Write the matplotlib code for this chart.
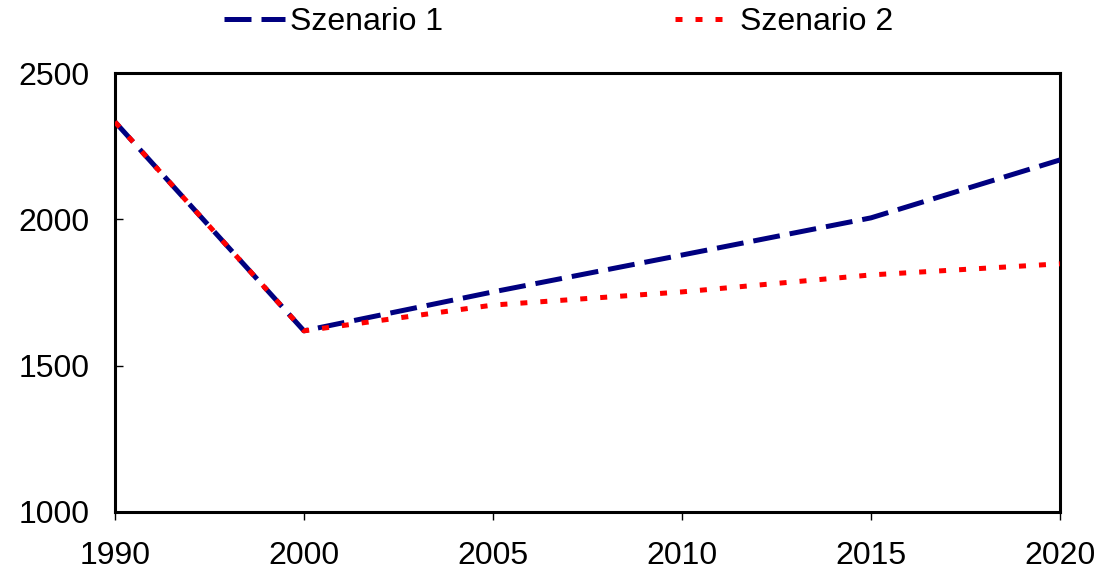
#!/usr/bin/env python3
"""
Szenario comparison line chart (1990-2020)
"""

import matplotlib
matplotlib.use('Agg')
import matplotlib.pyplot as plt

plt.rcParams['font.family'] = ['Liberation Sans', 'DejaVu Sans']

# =============================================================================
# Data
# =============================================================================
years = ['1990', '2000', '2005', '2010', '2015', '2020']
szenario_1 = [2333, 1619, 1752, 1878, 2005, 2203]
szenario_2 = [2333, 1619, 1707, 1752, 1810, 1848]

# =============================================================================
# Plot
# =============================================================================
fig = plt.figure(figsize=(11, 5.73), dpi=100)
ax = fig.add_axes([0.1045, 0.1065, 0.8591, 0.7661])

x = range(len(years))
l1, = ax.plot(x, szenario_1, color='#000080', linewidth=3.6,
              dashes=(5.4, 2.0), label='Szenario 1', zorder=3)
l2, = ax.plot(x, szenario_2, color='#ff0000', linewidth=3.6,
              dashes=(1.4, 2.6), label='Szenario 2', zorder=4)

ax.set_xlim(0, len(years) - 1)
ax.set_ylim(1000, 2500)
ax.set_xticks(list(x))
ax.set_xticklabels(years)
ax.set_yticks([1000, 1500, 2000, 2500])

for sp in ax.spines.values():
    sp.set_linewidth(2.2)
    sp.set_color('black')

ax.tick_params(axis='y', direction='in', length=6, width=1, labelsize=23, pad=18)
ax.tick_params(axis='x', direction='out', length=6, width=1, labelsize=23, pad=15)

fig.legend(handles=[l1, l2], loc='center', bbox_to_anchor=(0.508, 0.962),
           ncol=2, frameon=False, fontsize=23, handlelength=1.88,
           handletextpad=0.16, columnspacing=7.26)

plt.savefig('out.png', dpi=100)
plt.close()
